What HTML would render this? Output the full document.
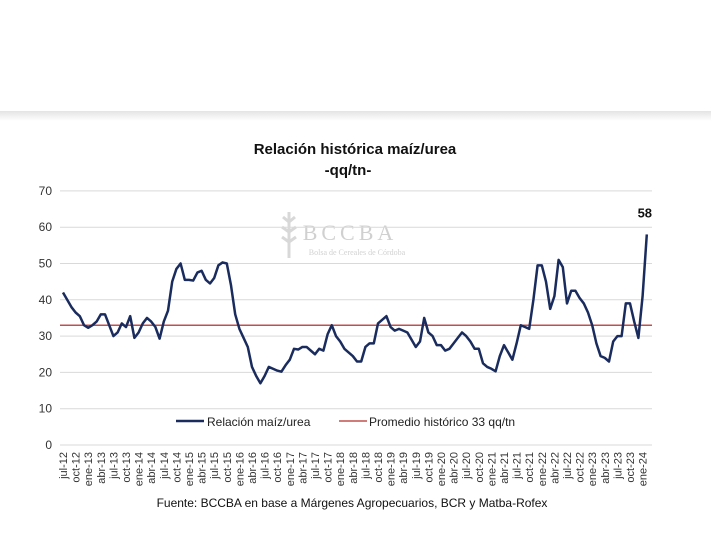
<!DOCTYPE html>
<html><head><meta charset="utf-8"><style>
body{margin:0;width:711px;height:552px;background:#fff;overflow:hidden;font-family:"Liberation Sans",sans-serif}
</style></head><body>
<svg width="711" height="552" viewBox="0 0 711 552" xmlns="http://www.w3.org/2000/svg">
<defs><linearGradient id="sep" x1="0" y1="0" x2="0" y2="1"><stop offset="0" stop-color="#e4e4e4"/><stop offset="1" stop-color="#fff"/></linearGradient></defs>
<rect x="0" y="111" width="711" height="10" fill="url(#sep)"/>
<text x="355" y="154" text-anchor="middle" font-size="15" font-weight="bold" fill="#111">Relación histórica maíz/urea</text>
<text x="348" y="175" text-anchor="middle" font-size="15" font-weight="bold" fill="#111">-qq/tn-</text>
<g opacity="0.45">
<text x="350" y="240" text-anchor="middle" font-family="Liberation Serif,serif" font-size="22" fill="#999" letter-spacing="4">BCCBA</text>
<text x="357" y="255" text-anchor="middle" font-family="Liberation Serif,serif" font-size="8" fill="#999">Bolsa de Cereales de Córdoba</text>
<path d="M289 212 L289 258 M289 222 l-6 -5 M289 232 l-7 -5 M289 242 l-7 -5 M289 222 l6 -5 M289 232 l7 -5 M289 242 l7 -5" stroke="#aaa" stroke-width="3" fill="none"/>
</g>
<g id="grid"></g><g id="yt"></g><g id="xt"></g><g id="series"></g>
<g>
<line x1="176" y1="421" x2="204" y2="421" stroke="#1a2b5e" stroke-width="2.5"/>
<text x="207" y="426" font-size="12" fill="#222">Relación maíz/urea</text>
<line x1="339" y1="421" x2="367" y2="421" stroke="#c0504d" stroke-width="1.5"/>
<text x="369" y="426" font-size="12" fill="#222">Promedio histórico 33 qq/tn</text>
</g>
<text x="352" y="507" text-anchor="middle" font-size="12" fill="#111">Fuente: BCCBA en base a Márgenes Agropecuarios, BCR y Matba-Rofex</text>
</svg>
<script>
const values=[42,40,38,36.5,35.5,33,32.3,33,34,36,36,33,30,31,33.5,32.5,35.5,29.5,31,33.5,35,34,32.5,29.3,34,37,45,48.5,50,45.5,45.5,45.3,47.5,48,45.5,44.5,46,49.5,50.3,50,44,36,32,29.5,27,21.5,19,17,19,21.5,21,20.5,20.2,22,23.5,26.5,26.3,27,27,26,25,26.5,26,30.5,33,30,28.5,26.5,25.5,24.5,23,23,27,28,28,33.5,34.5,35.5,32.5,31.5,32,31.5,31,29,27,28.5,35,31,30,27.5,27.5,26,26.5,28,29.5,31,30,28.5,26.5,26.5,22.5,21.5,21,20.3,24.5,27.5,25.5,23.5,28,33,32.5,32,40,49.5,49.5,45,37.5,41,51,49,39,42.5,42.5,40.5,39,36.5,33,28,24.5,24,23,28.5,30,30,39,39,34,29.5,41,58];
const average=[33];
const yTicks=[0,10,20,30,40,50,60,70];
const xLabels=["jul-12","oct-12","ene-13","abr-13","jul-13","oct-13","ene-14","abr-14","jul-14","oct-14","ene-15","abr-15","jul-15","oct-15","ene-16","abr-16","jul-16","oct-16","ene-17","abr-17","jul-17","oct-17","ene-18","abr-18","jul-18","oct-18","ene-19","abr-19","jul-19","oct-19","ene-20","abr-20","jul-20","oct-20","ene-21","abr-21","jul-21","oct-21","ene-22","abr-22","jul-22","oct-22","ene-23","abr-23","jul-23","oct-23","ene-24"];
const NS="http://www.w3.org/2000/svg";
const X0=63,STEP=4.2,Y0=445,PX=3.63;
const xs=i=>X0+i*STEP, ys=v=>Y0-v*PX;
function mk(t,a,p){const e=document.createElementNS(NS,t);for(const k in a)e.setAttribute(k,a[k]);p.appendChild(e);return e;}
const grid=document.getElementById('grid'),yt=document.getElementById('yt'),xt=document.getElementById('xt'),se=document.getElementById('series');
yTicks.forEach(v=>{
 const l=mk('line',{x1:60,x2:652,y1:ys(v),y2:ys(v),stroke:'#d9d9d9','stroke-width':1},grid);
 
 
 const t=mk('text',{x:52,y:ys(v)+4,'text-anchor':'end','font-size':12,fill:'#333'},yt);
 t.textContent=v;
 
 
});
xLabels.forEach((s,k)=>{
 const x=xs(k*3)+4;
 const t=mk('text',{x:0,y:0,transform:`translate(${x},452) rotate(-90)`,'text-anchor':'end','font-size':11,fill:'#333'},xt);
 t.textContent=s;
 
 
});
const avg=mk('line',{x1:60,x2:652,y1:ys(average[0]),y2:ys(average[0]),stroke:'#c0504d','stroke-width':1.5},se);


const p=mk('polyline',{points:values.map((v,i)=>xs(i)+','+ys(v)).join(' '),fill:'none',stroke:'#1a2b5e','stroke-width':2.5,'stroke-linejoin':'round'},se);


const li=values.length-1;
const lab=mk('text',{x:xs(li)-2,y:ys(values[li])-17,'text-anchor':'middle','font-size':13,'font-weight':'bold',fill:'#111'},se);
lab.textContent=Math.round(values[li]);


</script>
</body></html>
